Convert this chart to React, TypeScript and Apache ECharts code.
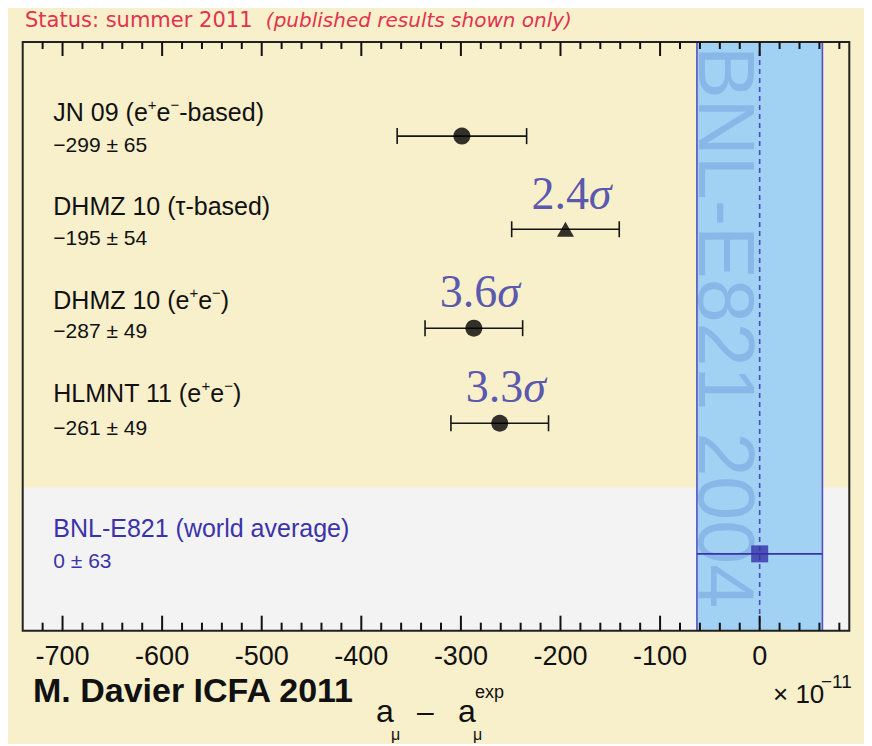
import React, { useEffect, useRef } from "react";
import * as echarts from "echarts";

// ---- data ----
const rowNames = [
  "JN 09 (e{sup|+}e{sup|−}-based)",
  "DHMZ 10 (τ-based)",
  "DHMZ 10 (e{sup|+}e{sup|−})",
  "HLMNT 11 (e{sup|+}e{sup|−})",
];
const centralValues = [-299, -195, -287, -261];
const errors = [65, 54, 49, 49];
const rowPositions = [5.15, 4.18, 3.15, 2.16];
const markerShapes = ["circle", "triangle", "circle", "circle"];
const sigmaLabels = ["", "2.4", "3.6", "3.3"];

const bnlName = "BNL-E821 (world average)";
const bnlValue = 0;
const bnlError = 63;
const bnlRow = 0.8;
const worldAverageRegionTop = 1.49;

const xMin = -740;
const xMax = 90;
const yMax = 6.13;
const majorTicks = [-700, -600, -500, -400, -300, -200, -100, 0];
const minorTicks = [
  -720, -680, -660, -640, -620, -580, -560, -540, -520, -480, -460, -440, -420,
  -380, -360, -340, -320, -280, -260, -240, -220, -180, -160, -140, -120,
  -80, -60, -40, -20, 20, 40, 60, 80,
];

const fmtVal = (v: number) => (v < 0 ? "−" + Math.abs(v) : String(v));

const YELLOW = "#f8efcb";
const FRAME = "#222222";
const SANS = "'Liberation Sans', Arial, sans-serif";
const SERIF = "'Liberation Serif', 'DejaVu Serif', serif";

export default function App() {
  const ref = useRef<HTMLDivElement>(null);
  useEffect(() => {
    document.documentElement.style.overflow = "hidden";
    const chart = echarts.init(ref.current!, undefined, { renderer: "svg" });

    const rowNameY = [104, 198.3, 291.5, 385];
    const rowValY = [136.3, 229.6, 322.6, 419.6];

    const txt = (text: string, x: number, y: number, font: string, fill = "#111", extra: any = {}) => ({
      type: "text",
      x,
      y,
      z: 20,
      style: { text, font, fill, align: "left", verticalAlign: "middle", ...extra },
    });

    const textGraphics: any[] = [];
    rowNames.forEach((n, i) => {
      textGraphics.push({
        type: "text",
        left: 45.3,
        top: rowNameY[i] - 15,
        z: 20,
        style: {
          text: n,
          fill: "#111",
          font: `25px ${SANS}`,
          lineHeight: 30,
          rich: { sup: { fontSize: 15, fontFamily: SANS, verticalAlign: "top", lineHeight: 14 } },
        },
      });
      textGraphics.push(txt(`${fmtVal(centralValues[i])} ± ${errors[i]}`, 45.3, rowValY[i], `21px ${SANS}`));
    });
    textGraphics.push(txt(bnlName, 45.3, 520, `25px ${SANS}`, "#3b34a8"));
    textGraphics.push(txt(`${fmtVal(bnlValue)} ± ${bnlError}`, 45.3, 552, `21px ${SANS}`, "#3b34a8"));

    textGraphics.push(txt("a", 368, 703, `32px ${SANS}`, "#111", { lineHeight: 20 }));
    textGraphics.push(txt("μ", 383, 726, `16px ${SANS}`, "#111", { lineHeight: 12 }));
    textGraphics.push(txt("–", 409, 703, `30px ${SANS}`, "#111", { lineHeight: 20 }));
    textGraphics.push(txt("a", 450, 703, `32px ${SANS}`, "#111", { lineHeight: 20 }));
    textGraphics.push(txt("μ", 465, 726, `16px ${SANS}`, "#111", { lineHeight: 12 }));
    textGraphics.push(txt("exp", 467, 684, `18px ${SANS}`, "#111", { lineHeight: 16 }));
    textGraphics.push(txt("× 10", 765, 686, `26px ${SANS}`));
    textGraphics.push(txt("−11", 813, 673, `19px ${SANS}`));
    textGraphics.push(txt("M. Davier ICFA 2011", 25, 682, `bold 34px ${SANS}`));

    const option: any = {
      animation: false,
      grid: { left: 14.7, right: 22.7, top: 34, bottom: 113.3, show: false },
      xAxis: {
        type: "value",
        position: "bottom",
        min: xMin,
        max: xMax,
        z: 10,
        axisLine: { show: false, onZero: false },
        axisTick: { show: false },
        axisLabel: { show: true, customValues: majorTicks, margin: 12, color: "#111", fontSize: 27, fontFamily: SANS },
        splitLine: { show: false },
      },
      yAxis: { type: "value", min: 0, max: yMax, show: false },
      graphic: [
        ...textGraphics,
        {
          type: "text",
          left: 17,
          top: 1,
          z: 20,
          style: {
            text: "{a|Status: summer 2011  }{b|(published results shown only)}",
            rich: {
              a: { fontSize: 21, fontFamily: "'DejaVu Sans', Verdana, sans-serif", fill: "#e2334f", lineHeight: 24 },
              b: { fontSize: 20, fontStyle: "italic", fontFamily: "'DejaVu Sans', Verdana, sans-serif", fill: "#e2334f", lineHeight: 24 },
            },
          },
        },
        {
          type: "text",
          x: 718,
          y: 38,
          rotation: -Math.PI / 2,
          z: 3,
          style: { text: "BNL-E821 2004", font: `79px ${SANS}`, fill: "#89b8e8", align: "left", verticalAlign: "middle" },
        },
      ],
      series: [
        {
          type: "custom",
          z: 0,
          silent: true,
          data: [[xMin, xMax, worldAverageRegionTop]],
          renderItem: (params: any, api: any) => {
            const p0 = api.coord([api.value(0), api.value(2)]);
            const p1 = api.coord([api.value(1), 0]);
            return { type: "rect", shape: { x: p0[0], y: p0[1], width: p1[0] - p0[0], height: p1[1] - p0[1] }, style: { fill: "#f3f3f3" } };
          },
        },
        {
          type: "custom",
          z: 1,
          silent: true,
          data: [[bnlValue, bnlError]],
          renderItem: (params: any, api: any) => {
            const v = api.value(0), e = api.value(1);
            const a = api.coord([v - e, yMax]);
            const b = api.coord([v + e, 0]);
            return {
              type: "group",
              children: [
                { type: "rect", shape: { x: a[0], y: a[1], width: b[0] - a[0], height: b[1] - a[1] }, style: { fill: "#a1d1f3" } },
                { type: "line", shape: { x1: a[0], y1: a[1], x2: a[0], y2: b[1] }, style: { stroke: "#5650c0", lineWidth: 1.6 } },
                { type: "line", shape: { x1: b[0], y1: a[1], x2: b[0], y2: b[1] }, style: { stroke: "#5650c0", lineWidth: 1.6 } },
              ],
            };
          },
        },
        {
          type: "custom",
          z: 4,
          silent: true,
          data: [[bnlValue]],
          renderItem: (params: any, api: any) => {
            const a = api.coord([api.value(0), yMax]);
            const b = api.coord([api.value(0), 0]);
            return { type: "line", shape: { x1: a[0], y1: a[1], x2: b[0], y2: b[1] }, style: { stroke: "#5048bc", lineWidth: 1.6, lineDash: [5, 4] } };
          },
        },
        {
          // frame plus tick marks in one element, all placed through the x scale
          type: "custom",
          z: 8,
          silent: true,
          data: [[xMin, xMax]],
          renderItem: (params: any, api: any) => {
            const a = api.coord([api.value(0), yMax]);
            const b = api.coord([api.value(1), 0]);
            const top = a[1];
            const bottom = b[1];
            const children: any[] = [
              {
                type: "rect",
                shape: { x: a[0], y: top, width: b[0] - a[0], height: bottom - top },
                style: { fill: "none", stroke: FRAME, lineWidth: 2 },
              },
            ];
            const addTicks = (vals: number[], lb: number, lt: number) => {
              vals.forEach((v) => {
                const x = api.coord([v, 0])[0];
                children.push({
                  type: "polyline",
                  shape: { points: [[x, bottom], [x, bottom - lb]] },
                  style: { stroke: "#111", lineWidth: 2, fill: "none" },
                });
                children.push({
                  type: "polyline",
                  shape: { points: [[x, top], [x, top + lt]] },
                  style: { stroke: "#111", lineWidth: 2, fill: "none" },
                });
              });
            };
            addTicks(majorTicks, 15, 14);
            addTicks(minorTicks, 8, 7);
            return { type: "group", children };
          },
        },
        {
          type: "custom",
          z: 5,
          silent: true,
          data: centralValues.map((v, i) => [v, rowPositions[i], errors[i]]),
          renderItem: (params: any, api: any) => {
            const v = api.value(0), y = api.value(1), e = api.value(2);
            const l = api.coord([v - e, y]);
            const r = api.coord([v + e, y]);
            const st = { stroke: "#151515", lineWidth: 1.6 };
            return {
              type: "group",
              children: [
                { type: "line", shape: { x1: l[0], y1: l[1], x2: r[0], y2: r[1] }, style: st },
                { type: "line", shape: { x1: l[0], y1: l[1] - 8, x2: l[0], y2: l[1] + 8 }, style: st },
                { type: "line", shape: { x1: r[0], y1: r[1] - 8, x2: r[0], y2: r[1] + 8 }, style: st },
              ],
            };
          },
        },
        {
          type: "custom",
          z: 5,
          silent: true,
          data: [[bnlValue, bnlRow, bnlError]],
          renderItem: (params: any, api: any) => {
            const v = api.value(0), y = api.value(1), e = api.value(2);
            const l = api.coord([v - e, y]);
            const r = api.coord([v + e, y]);
            return { type: "line", shape: { x1: l[0], y1: l[1], x2: r[0], y2: r[1] }, style: { stroke: "#3a33a8", lineWidth: 1.8 } };
          },
        },
        {
          type: "scatter",
          z: 6,
          silent: true,
          data: centralValues.map((v, i) => ({
            value: [v, rowPositions[i]],
            symbol: markerShapes[i],
            symbolSize: markerShapes[i] === "triangle" ? [17, 15] : 17,
            label: {
              show: sigmaLabels[i] !== "",
              formatter: sigmaLabels[i] ? `{n|${sigmaLabels[i]}}{g|σ}` : "",
              position: "top",
              distance: 7,
              offset: [6, 0],
              rich: {
                n: { fontSize: 46, fontFamily: SERIF, color: "#2f2fa6", lineHeight: 42 },
                g: { fontSize: 46, fontFamily: SERIF, fontStyle: "italic", color: "#2f2fa6", lineHeight: 42 },
              },
            },
          })),
          itemStyle: { color: "#000" },
        },
        {
          type: "scatter",
          z: 6,
          silent: true,
          symbol: "rect",
          symbolSize: 17,
          data: [[bnlValue, bnlRow]],
          itemStyle: { color: "#3530a6" },
        },
      ],
    };
    chart.setOption(option);
    return () => chart.dispose();
  }, []);
  return <div ref={ref} style={{ width: 864, height: 736, background: YELLOW }} />;
}
